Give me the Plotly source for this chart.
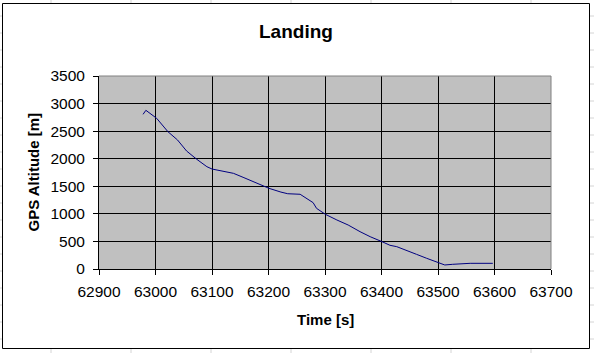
import plotly.graph_objects as go

# ---- data ----
time_s = [62978, 62983, 63002, 63022, 63039, 63055, 63073, 63091, 63100, 63120,
          63138, 63155, 63173, 63201, 63222, 63234, 63256, 63265, 63279, 63285,
          63301, 63321, 63341, 63362, 63380, 63401, 63415, 63427, 63444, 63462,
          63480, 63498, 63512, 63526, 63557, 63597]
altitude_m = [2805, 2878, 2733, 2490, 2340, 2140, 1990, 1855, 1813, 1765,
              1735, 1663, 1584, 1463, 1395, 1365, 1355, 1300, 1203, 1100,
              990, 889, 798, 677, 586, 495, 430, 405, 332, 266,
              194, 133, 73, 85, 103, 103]

title_text = "Landing"
x_title = "Time [s]"
y_title = "GPS Altitude [m]"
x_ticks = [62900, 63000, 63100, 63200, 63300, 63400, 63500, 63600, 63700]
y_ticks = [0, 500, 1000, 1500, 2000, 2500, 3000, 3500]

W, H = 594, 353
L, R, T, B = 99, 551, 76, 269  # plot area in pixels


def px(x):
    return (x - L) / (R - L)


def py(y):
    return (B - y) / (B - T)


shapes = []
# faint spreadsheet grid behind the chart object
for gx in range(51, 600, 80):
    shapes.append(dict(type="line", xref="paper", yref="paper", layer="below",
                       x0=px(gx), x1=px(gx), y0=py(0), y1=py(H),
                       line=dict(color="#d4d4d4", width=1)))
for gy in range(16, 353, 17):
    shapes.append(dict(type="line", xref="paper", yref="paper", layer="below",
                       x0=px(0), x1=px(W), y0=py(gy), y1=py(gy),
                       line=dict(color="#d4d4d4", width=1)))
# chart object (white box with black border)
shapes.append(dict(type="rect", xref="paper", yref="paper", layer="below",
                   x0=px(2.5), x1=px(589.5), y0=py(3.5), y1=py(348.5),
                   fillcolor="white", line=dict(color="black", width=1)))
# grey plot area
shapes.append(dict(type="rect", xref="paper", yref="paper", layer="below",
                   x0=0, x1=1, y0=0, y1=1,
                   fillcolor="#c0c0c0", line=dict(width=0)))
# grey top & right border of plot area
shapes.append(dict(type="line", xref="paper", yref="paper", layer="above",
                   x0=0, x1=1, y0=1, y1=1, line=dict(color="#808080", width=1)))
shapes.append(dict(type="line", xref="paper", yref="paper", layer="above",
                   x0=1, x1=1, y0=0, y1=1, line=dict(color="#808080", width=1)))

fig = go.Figure()
fig.add_trace(go.Scatter(x=time_s, y=altitude_m, mode="lines",
                         line=dict(color="#000080", width=1),
                         showlegend=False, hoverinfo="skip"))

fig.update_layout(
    width=W, height=H,
    margin=dict(l=L, r=W - R, t=T, b=H - B, pad=0),
    paper_bgcolor="white",
    plot_bgcolor="rgba(0,0,0,0)",
    font=dict(family="Liberation Sans, Arial, sans-serif", size=15, color="black"),
    shapes=shapes,
    annotations=[
        dict(text="<b>" + title_text + "</b>", xref="paper", yref="paper",
             x=px(295.5), y=py(31), xanchor="center", yanchor="middle",
             showarrow=False, font=dict(size=19)),
        dict(text="<b>" + x_title + "</b>", xref="paper", yref="paper",
             x=px(325), y=py(319), xanchor="center", yanchor="middle",
             showarrow=False, font=dict(size=15)),
        dict(text="<b>" + y_title + "</b>", xref="paper", yref="paper",
             x=px(33), y=py(172.5), xanchor="center", yanchor="middle",
             textangle=-90, showarrow=False, font=dict(size=15)),
    ],
)

fig.update_xaxes(range=[x_ticks[0], x_ticks[-1]], tickvals=x_ticks,
                 ticktext=[str(v) for v in x_ticks],
                 showgrid=True, gridcolor="black", gridwidth=1,
                 zeroline=False, showline=True, linecolor="black", linewidth=1,
                 ticks="outside", ticklen=5, tickcolor="black", tickwidth=1,
                 ticklabelstandoff=3, tickfont=dict(size=15.5))
fig.update_yaxes(range=[y_ticks[0], y_ticks[-1]], tickvals=y_ticks,
                 ticktext=[str(v) for v in y_ticks],
                 showgrid=True, gridcolor="black", gridwidth=1,
                 zeroline=False, showline=True, linecolor="black", linewidth=1,
                 ticks="outside", ticklen=5, tickcolor="black", tickwidth=1,
                 ticklabelstandoff=5, tickfont=dict(size=15.5))

fig.write_html("out.html")
